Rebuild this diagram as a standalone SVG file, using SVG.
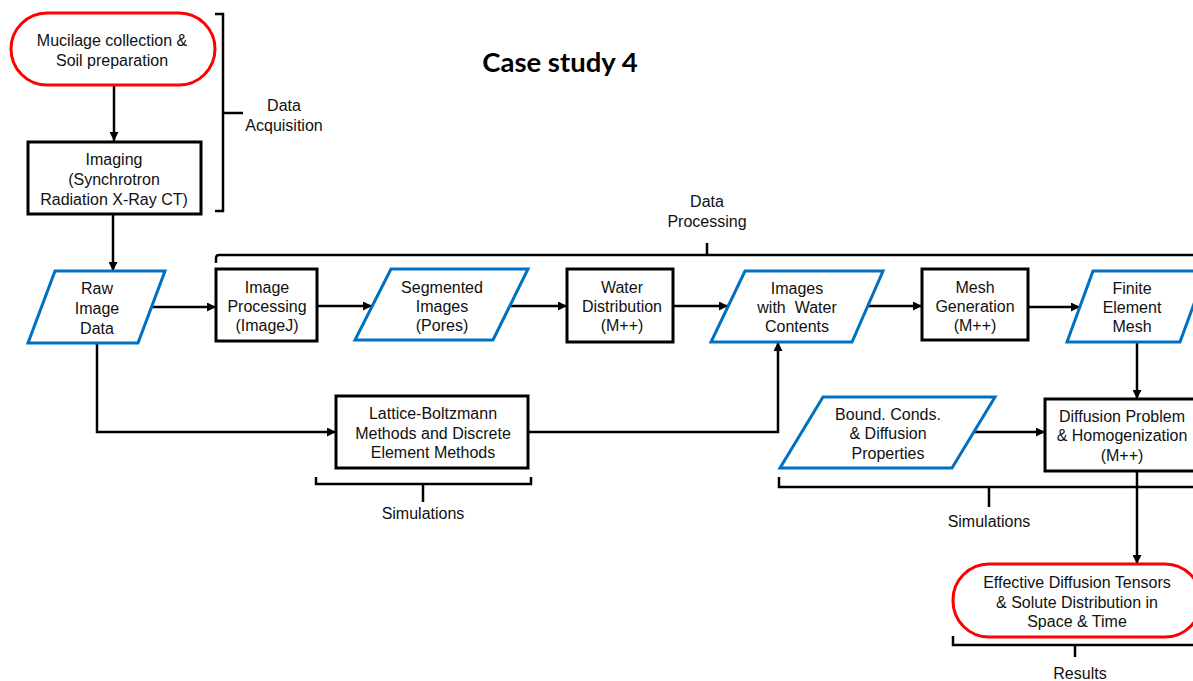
<svg xmlns="http://www.w3.org/2000/svg" width="1193" height="681" viewBox="0 0 1193 681">
<defs>
<marker id="ah" viewBox="0 0 10 10" refX="10" refY="5" markerWidth="9" markerHeight="9" markerUnits="userSpaceOnUse" orient="auto">
<path d="M0,0 L10,5 L0,10 z" fill="#000"/>
</marker>
<style>
.t{font-family:"Liberation Sans",Arial,sans-serif;font-size:16px;fill:#111;text-anchor:middle}
.title{font-family:Lato,"Open Sans",sans-serif;font-size:27.5px;font-weight:bold;fill:#000;text-anchor:middle}
.box{fill:#fff;stroke:#000;stroke-width:3}
.data{fill:#fff;stroke:#0070C0;stroke-width:3;stroke-linejoin:miter}
.term{fill:#fff;stroke:#f00;stroke-width:3}
.c{fill:none;stroke:#000;stroke-width:2.5;marker-end:url(#ah)}
.br{fill:none;stroke:#000;stroke-width:2.5}
</style>
</defs>
<rect width="1193" height="681" fill="#fff"/>
<text class="title" x="560" y="72">Case study 4</text>

<g id="connectors">
<path class="c" d="M114,85 V141"/>
<path class="c" d="M113,214 V271"/>
<path class="c" d="M152,307 H216"/>
<path class="c" d="M317,306 H372"/>
<path class="c" d="M510,306 H567"/>
<path class="c" d="M673,306 H728"/>
<path class="c" d="M867,306 H922"/>
<path class="c" d="M1028,307 H1080"/>
<path class="c" d="M1137,342 V399"/>
<path class="c" d="M97,343 V432 H336"/>
<path class="c" d="M528,432 H778 V342"/>
<path class="c" d="M974,432 H1045"/>
<path class="c" d="M1137,471 V564"/>
</g>

<g id="brackets">
<path class="br" d="M215,14 H223 V211 H215 M223,113 H243"/>
<path class="br" d="M216,263 V258 Q216,255 219,255 H1193 M707,255 V243"/>
<path class="br" d="M316,477 V484 H531 V477 M423,484 V502"/>
<path class="br" d="M779,477 V487 H1193 M989,487 V507"/>
<path class="br" d="M953,636 V645 H1193 M1075,645 V657"/>
<text class="t" x="284" y="111">Data</text>
<text class="t" x="284" y="131">Acquisition</text>
<text class="t" x="707" y="207">Data</text>
<text class="t" x="707" y="227">Processing</text>
<text class="t" x="423" y="519">Simulations</text>
<text class="t" x="989" y="527">Simulations</text>
<text class="t" x="1080" y="679">Results</text>
</g>

<g id="mucilage">
<rect class="term" x="11" y="13" width="204" height="72" rx="36" ry="36"/>
<text class="t" x="112" y="46">Mucilage collection &amp;</text>
<text class="t" x="112" y="66">Soil preparation</text>
</g>

<g id="imaging">
<rect class="box" x="28" y="142" width="173" height="72"/>
<text class="t" x="114" y="165">Imaging</text>
<text class="t" x="114" y="185">(Synchrotron</text>
<text class="t" x="114" y="205">Radiation X-Ray CT)</text>
</g>

<g id="raw">
<polygon class="data" points="55,271 165,271 138,343 28,343"/>
<text class="t" x="97" y="294">Raw</text>
<text class="t" x="97" y="314">Image</text>
<text class="t" x="97" y="334">Data</text>
</g>

<g id="imageproc">
<rect class="box" x="216" y="269" width="101" height="72"/>
<text class="t" x="267" y="293">Image</text>
<text class="t" x="267" y="312">Processing</text>
<text class="t" x="267" y="331">(ImageJ)</text>
</g>

<g id="segmented">
<polygon class="data" points="391,269 528,269 493,340 355,340"/>
<text class="t" x="442" y="293">Segmented</text>
<text class="t" x="442" y="312">Images</text>
<text class="t" x="442" y="331">(Pores)</text>
</g>

<g id="water">
<rect class="box" x="567" y="269" width="106" height="73"/>
<text class="t" x="622" y="293">Water</text>
<text class="t" x="622" y="312">Distribution</text>
<text class="t" x="622" y="331">(M++)</text>
</g>

<g id="imageswater">
<polygon class="data" points="745,271 883,271 852,342 711,342"/>
<text class="t" x="797" y="294">Images</text>
<text class="t" x="797" y="313" xml:space="preserve">with  Water</text>
<text class="t" x="797" y="332">Contents</text>
</g>

<g id="mesh">
<rect class="box" x="922" y="269" width="106" height="71"/>
<text class="t" x="975" y="293">Mesh</text>
<text class="t" x="975" y="312">Generation</text>
<text class="t" x="975" y="331">(M++)</text>
</g>

<g id="finite">
<polygon class="data" points="1093,271 1206,271 1180,342 1067,342"/>
<text class="t" x="1132" y="294">Finite</text>
<text class="t" x="1132" y="313">Element</text>
<text class="t" x="1132" y="332">Mesh</text>
</g>

<g id="lattice">
<rect class="box" x="336" y="396" width="192" height="72"/>
<text class="t" x="433" y="419">Lattice-Boltzmann</text>
<text class="t" x="433" y="439">Methods and Discrete</text>
<text class="t" x="433" y="458">Element Methods</text>
</g>

<g id="bound">
<polygon class="data" points="823,397 995,397 952,468 780,468"/>
<text class="t" x="888" y="420">Bound. Conds.</text>
<text class="t" x="888" y="439">&amp; Diffusion</text>
<text class="t" x="888" y="459">Properties</text>
</g>

<g id="diffusion">
<rect class="box" x="1045" y="399" width="155" height="72"/>
<text class="t" x="1122" y="422">Diffusion Problem</text>
<text class="t" x="1122" y="441">&amp; Homogenization</text>
<text class="t" x="1122" y="461">(M++)</text>
</g>

<g id="effective">
<rect class="term" x="953" y="564" width="248" height="73" rx="36" ry="36"/>
<text class="t" x="1077" y="588">Effective Diffusion Tensors</text>
<text class="t" x="1077" y="608">&amp; Solute Distribution in</text>
<text class="t" x="1077" y="627">Space &amp; Time</text>
</g>
</svg>
